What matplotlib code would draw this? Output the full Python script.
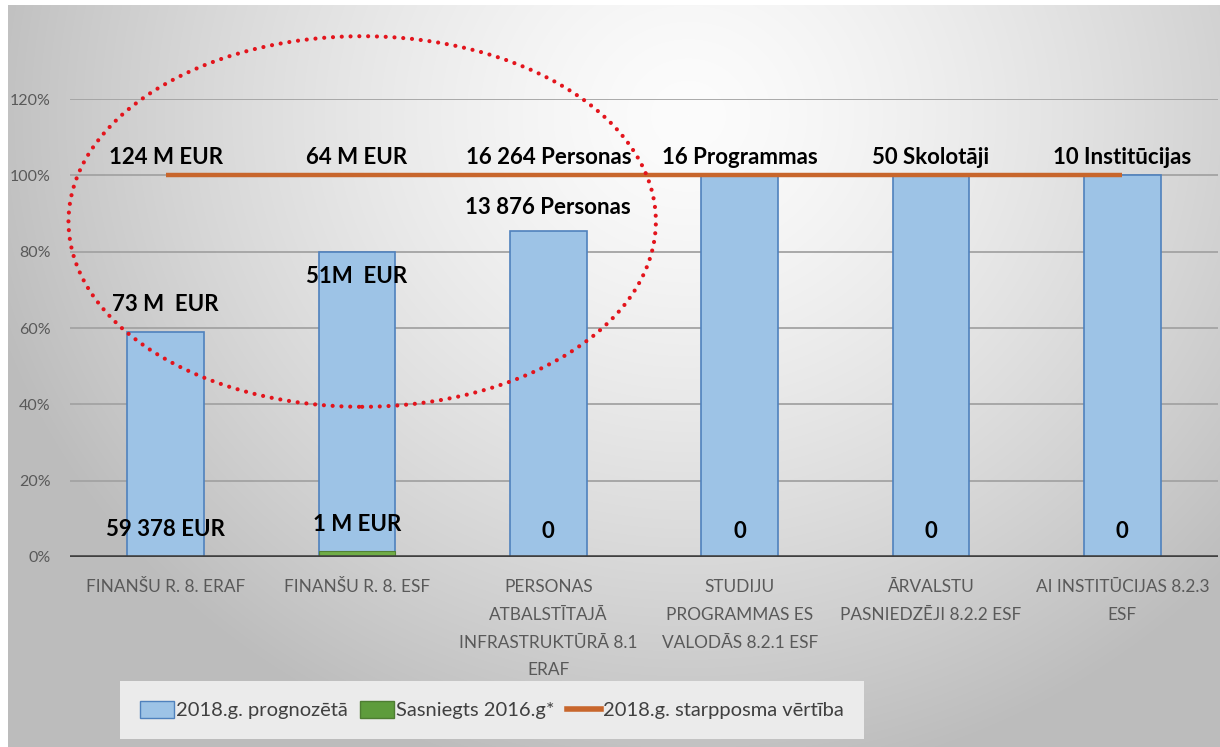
import numpy as np
import matplotlib
matplotlib.use("Agg")
import matplotlib.pyplot as plt
from matplotlib.patches import Ellipse, Patch
from matplotlib.lines import Line2D
from matplotlib.ticker import PercentFormatter

# data
categories = ["FINANŠU R. 8. ERAF",
              "FINANŠU R. 8. ESF",
              "PERSONAS\nATBALSTĪTAJĀ\nINFRASTRUKTŪRĀ 8.1\nERAF",
              "STUDIJU\nPROGRAMMAS ES\nVALODĀS 8.2.1 ESF",
              "ĀRVALSTU\nPASNIEDZĒJI 8.2.2 ESF",
              "AI INSTITŪCIJAS 8.2.3\nESF"]
forecast_2018 = [0.59, 0.80, 0.853, 1.0, 1.0, 1.0]
achieved_2016 = [0.0005, 0.015, 0.0, 0.0, 0.0, 0.0]
milestone_2018 = [1.0, 1.0, 1.0, 1.0, 1.0, 1.0]

milestone_labels = ["124 M EUR", "64 M EUR", "16 264 Personas",
                    "16 Programmas", "50 Skolotāji", "10 Institūcijas"]
forecast_labels = ["73 M  EUR", "51M  EUR", "13 876 Personas", "", "", ""]
forecast_label_y = [0.661, 0.735, 0.916, None, None, None]
achieved_labels = ["59 378 EUR", "1 M EUR", "0", "0", "0", "0"]
achieved_label_y = [0.071, 0.084, 0.068, 0.068, 0.068, 0.068]

legend_names = ["2018.g. prognozētā", "Sasniegts 2016.g*", "2018.g. starpposma vērtība"]

plt.rcParams['font.family'] = ['Lato', 'DejaVu Sans']

W, H = 1220, 747
fig = plt.figure(figsize=(W / 100, H / 100), dpi=100)
fig.patch.set_facecolor("white")

# gray radial gradient behind the chart
bg = fig.add_axes([8 / W, 0, 1 - 8 / W, 1 - 5 / H], zorder=-5)
yy, xx = np.mgrid[0:742, 0:1212]
d = np.sqrt(((xx - 680) / 820.0) ** 2 + ((yy - 110) / 760.0) ** 2)
shade = np.clip(252 - 75 * d ** 1.4, 188, 252) / 255.0
bg.imshow(np.dstack([shade, shade, shade]), aspect="auto", interpolation="bilinear")
bg.axis("off")

ax = fig.add_axes([70 / W, (H - 557) / H, (1218 - 70) / W, (557 - 99) / H])
ax.set_facecolor("none")
x = np.arange(len(categories))

ax.bar(x, forecast_2018, width=0.4, color="#9dc3e6", edgecolor="#4f81bd",
       linewidth=1.2, zorder=2)
ax.bar(x, achieved_2016, width=0.4, color="#70ad47", edgecolor="#548235",
       linewidth=0.8, zorder=3)
ax.plot(x, milestone_2018, color="#c8662c", linewidth=3.2, zorder=4,
        solid_capstyle="butt")

ax.set_xlim(-0.5, 5.5)
ax.set_ylim(0, 1.2)
ax.set_yticks(np.arange(0, 1.21, 0.2))
ax.yaxis.set_major_formatter(PercentFormatter(1.0, decimals=0))
ax.yaxis.grid(True, color="#a3a3a3", linewidth=1.3)
ax.set_axisbelow(True)
ax.axhline(0, color="#404040", linewidth=2.6, zorder=5)
for s in ax.spines.values():
    s.set_visible(False)
ax.tick_params(axis="y", length=0, pad=14, labelsize=11.5, labelcolor="#595959")
ax.set_xticks(x)
ax.set_xticklabels(categories, fontsize=12.4, color="#595959", linespacing=1.9)
ax.tick_params(axis="x", length=0, pad=16)

lbl = dict(ha="center", va="center", fontsize=16, fontweight="bold",
           color="black", zorder=6)
for i in x:
    ax.text(i, 1.047, milestone_labels[i], **lbl)
    if forecast_labels[i]:
        ax.text(i, forecast_label_y[i], forecast_labels[i], **lbl)
    ax.text(i, achieved_label_y[i], achieved_labels[i], **lbl)

# red dotted ellipse highlighting the first three groups
ell = Ellipse((1.027, 0.879), 3.07, 0.971, fill=False, edgecolor="#e3141c",
              linewidth=3.0, linestyle=(0, (0.01, 2.1)), clip_on=False, zorder=7)
ell.set_capstyle("round")
ax.add_patch(ell)

handles = [Patch(facecolor="#9dc3e6", edgecolor="#4f81bd"),
           Patch(facecolor="#5e9c3c", edgecolor="#4e7d32"),
           Line2D([], [], color="#c8662c", linewidth=4)]
leg = fig.legend(handles, legend_names, loc="center",
                 bbox_to_anchor=(0.4033, 0.0495), ncol=3, fontsize=14.5,
                 frameon=True, fancybox=False, facecolor="#ebebeb",
                 edgecolor="none", framealpha=1, handlelength=1.7,
                 handleheight=0.95, handletextpad=0.1, columnspacing=0.6,
                 borderpad=1.0, borderaxespad=0)
for t in leg.get_texts():
    t.set_color("#404040")

fig.savefig("out.png", dpi=100)
